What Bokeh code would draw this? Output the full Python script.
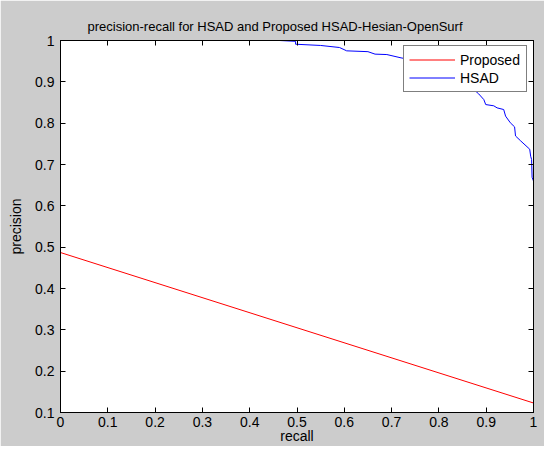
from bokeh.plotting import figure
from bokeh.models import Range1d, FixedTicker, LinearAxis, Legend, LegendItem
from bokeh.embed import file_html
from bokeh.resources import INLINE

# ---- data ----
recall_proposed = [0.0, 1.0]
precision_proposed = [0.487, 0.123]

recall_hsad = [0.0, 0.463, 0.497, 0.497, 0.55, 0.59, 0.605, 0.65, 0.665, 0.69, 0.72,
               0.78, 0.82, 0.86, 0.884, 0.895, 0.899, 0.916, 0.923, 0.937, 0.941,
               0.951, 0.960, 0.962, 0.973, 0.992, 0.994, 0.996, 0.997, 1.0, 1.0]
precision_hsad = [1.0, 1.0, 0.998, 0.991, 0.988, 0.983, 0.975, 0.973, 0.967, 0.966, 0.958,
                  0.945, 0.925, 0.895, 0.871, 0.857, 0.845, 0.842, 0.837, 0.833, 0.817,
                  0.801, 0.791, 0.769, 0.757, 0.737, 0.720, 0.712, 0.669, 0.660, 0.487]

x_ticks = [0, 0.1, 0.2, 0.3, 0.4, 0.5, 0.6, 0.7, 0.8, 0.9, 1]
x_tick_labels = ["0", "0.1", "0.2", "0.3", "0.4", "0.5", "0.6", "0.7", "0.8", "0.9", "1"]
y_ticks = [0.1, 0.2, 0.3, 0.4, 0.5, 0.6, 0.7, 0.8, 0.9, 1]
y_tick_labels = ["0.1", "0.2", "0.3", "0.4", "0.5", "0.6", "0.7", "0.8", "0.9", "1"]

title_text = "precision-recall for HSAD and Proposed HSAD-Hesian-OpenSurf"

FONT = "Liberation Sans"
FS_TITLE = "13px"
FS = "14px"

p = figure(width=544, height=446, output_backend="svg", toolbar_location=None,
           x_range=Range1d(0, 1), y_range=Range1d(0.1, 1),
           min_border_left=60, min_border_right=11, min_border_top=40, min_border_bottom=33)
p.border_fill_color = "#cccccc"
p.background_fill_color = "white"
p.outline_line_color = "black"
p.grid.visible = False

p.title.text = title_text
p.title.text_font = FONT
p.title.text_font_size = FS_TITLE
p.title.text_font_style = "normal"
p.title.text_color = "black"
p.title.align = "left"
p.title.offset = 27
p.title.standoff = 14

top_axis = LinearAxis()
right_axis = LinearAxis()
p.add_layout(top_axis, "above")
p.add_layout(right_axis, "right")

for ax in p.xaxis:
    ax.ticker = FixedTicker(ticks=x_ticks)
    ax.major_label_overrides = dict(zip(x_ticks, x_tick_labels))
for ax in p.yaxis:
    ax.ticker = FixedTicker(ticks=y_ticks)
    ax.major_label_overrides = dict(zip(y_ticks, y_tick_labels))

for ax in p.axis:
    ax.major_tick_in = 5
    ax.major_tick_out = 0
    ax.minor_tick_in = 0
    ax.minor_tick_out = 0
    ax.axis_line_color = "black"
    ax.major_tick_line_color = "black"
    ax.major_label_text_font = FONT
    ax.major_label_text_font_size = FS
    ax.major_label_text_color = "black"
    ax.major_label_standoff = 6
    ax.axis_label_text_font = FONT
    ax.axis_label_text_font_size = FS
    ax.axis_label_text_font_style = "normal"
    ax.axis_label_text_color = "black"

top_axis.major_label_overrides = {t: "" for t in x_ticks}
right_axis.major_label_overrides = {t: "" for t in y_ticks}
top_axis.major_label_standoff = 0
right_axis.major_label_standoff = 0

p.below[0].major_label_standoff = 4
p.below[0].axis_label = "recall"
p.below[0].axis_label_standoff = -2
p.left[0].axis_label = "precision"
p.left[0].axis_label_standoff = 8

r_red = p.line(recall_proposed, precision_proposed, line_color="#ff0000", line_width=1)
r_blue = p.line(recall_hsad, precision_hsad, line_color="#0000ff", line_width=1)

legend = Legend(items=[LegendItem(label="Proposed", renderers=[r_red]),
                       LegendItem(label="HSAD", renderers=[r_blue])],
                location=(343, 320))
legend.margin = 0
legend.padding = 5
legend.spacing = 1
legend.label_height = 17
legend.label_width = 61
legend.glyph_width = 46
legend.glyph_height = 17
legend.label_standoff = 5
legend.label_text_font = FONT
legend.label_text_font_size = FS
legend.label_text_color = "black"
legend.border_line_color = "black"
legend.border_line_width = 1
legend.background_fill_color = "white"
legend.background_fill_alpha = 1.0
p.add_layout(legend, "center")

open("out.html", "w").write(file_html(p, INLINE))
